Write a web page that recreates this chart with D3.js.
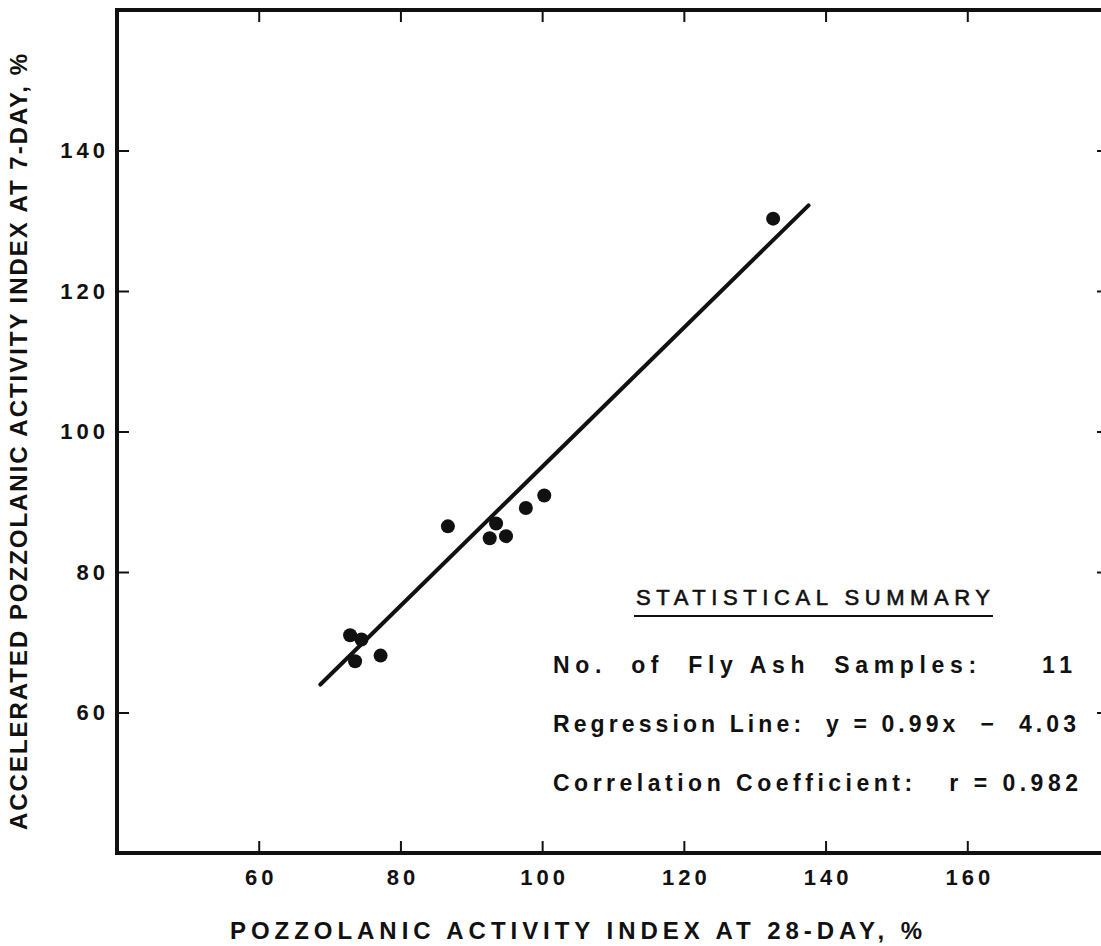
<!DOCTYPE html>
<html>
<head>
<meta charset="utf-8">
<script src="https://cdn.jsdelivr.net/npm/d3@7"></script>
<style>
  body { margin: 0; background: #fff; }
  svg text { font-family: "Liberation Sans", Arial, sans-serif; font-weight: bold; fill: #111; }
</style>
</head>
<body>
<div id="chart"></div>
<script>
// Data
var pozz28 = [132.6, 100.3, 97.7, 93.5, 86.7, 92.6, 94.9, 72.9, 74.5, 73.6, 77.2];
var accel7 = [130.3, 90.9, 89.1, 86.9, 86.5, 84.8, 85.1, 71.0, 70.4, 67.3, 68.1];
var xTicks = [60, 80, 100, 120, 140, 160];
var yTicks = [60, 80, 100, 120, 140];
var slope = 0.99;
var intercept = -4.03;
var fitRange = [68.7, 137.6];
var summaryTitle = "STATISTICAL SUMMARY";
var summaryLines = [
  "No.  of  Fly Ash  Samples:     11",
  "Regression Line:  y = 0.99x  \u2212  4.03",
  "Correlation Coefficient:   r = 0.982"
];

var svgWidth = 1101;
var svgHeight = 946;

var svg = d3.select("#chart")
  .append("svg")
  .attr("width", svgWidth)
  .attr("height", svgHeight);

// scales (right edge of the frame falls just off the picture)
var x = d3.scaleLinear().domain([40, 180]).range([117, 1109]);
var y = d3.scaleLinear().domain([40, 160]).range([853, 10]);

var ink = "#111";
var tickSpacing = 4;

// Frame
svg.append("path")
  .attr("d", `M${x(40)},${y(160)} L${x(40)},${y(40)} L${x(180)},${y(40)} L${x(180)},${y(160)} Z`)
  .attr("fill", "none")
  .attr("stroke", ink)
  .attr("stroke-width", 4);

// Axes with inward ticks
var bottomAxis = d3.axisBottom(x).tickValues(xTicks).tickSizeInner(-12).tickSizeOuter(0).tickPadding(16);
var leftAxis = d3.axisLeft(y).tickValues(yTicks).tickSizeInner(-12).tickSizeOuter(0).tickPadding(8);
var topAxis = d3.axisTop(x).tickValues(xTicks).tickSizeInner(-12).tickSizeOuter(0).tickFormat("");
var rightAxis = d3.axisRight(y).tickValues(yTicks).tickSizeInner(-12).tickSizeOuter(0).tickFormat("");

function styleAxis(g) {
  g.select(".domain").remove();
  g.selectAll(".tick line").attr("stroke", ink).attr("stroke-width", 2);
  g.selectAll(".tick text")
    .attr("fill", ink)
    .style("font-size", "22px")
    .style("letter-spacing", tickSpacing + "px");
}

svg.append("g").attr("transform", `translate(0,${y(40)})`).call(bottomAxis).call(styleAxis)
  .selectAll(".tick text").attr("dx", tickSpacing / 2);
svg.append("g").attr("transform", `translate(${x(40)},0)`).call(leftAxis).call(styleAxis);
svg.append("g").attr("transform", `translate(0,${y(160)})`).call(topAxis).call(styleAxis);
svg.append("g").attr("transform", `translate(${x(180)},0)`).call(rightAxis).call(styleAxis);

// Regression line
svg.append("line")
  .attr("x1", x(fitRange[0]))
  .attr("y1", y(slope * fitRange[0] + intercept))
  .attr("x2", x(fitRange[1]))
  .attr("y2", y(slope * fitRange[1] + intercept))
  .attr("stroke", ink)
  .attr("stroke-width", 4)
  .attr("stroke-linecap", "round");

// Points
svg.selectAll("circle")
  .data(pozz28)
  .enter()
  .append("circle")
  .attr("cx", d => x(d))
  .attr("cy", (d, i) => y(accel7[i]))
  .attr("r", 7)
  .attr("fill", ink);

// Axis titles
svg.append("text")
  .attr("x", 576)
  .attr("y", 939)
  .attr("text-anchor", "middle")
  .attr("textLength", 692)
  .attr("lengthAdjust", "spacing")
  .style("font-size", "24px")
  .text("POZZOLANIC ACTIVITY INDEX AT 28-DAY, %");

svg.append("text")
  .attr("transform", "translate(27,442) rotate(-90)")
  .attr("text-anchor", "middle")
  .attr("textLength", 776)
  .attr("lengthAdjust", "spacing")
  .style("font-size", "24px")
  .text("ACCELERATED POZZOLANIC ACTIVITY INDEX AT 7-DAY, %");

// Statistical summary
svg.append("text")
  .attr("x", 636)
  .attr("y", 605)
  .attr("textLength", 354)
  .attr("lengthAdjust", "spacing")
  .style("font-size", "22px")
  .style("font-weight", "normal")
  .style("stroke", ink)
  .style("stroke-width", 0.6)
  .text(summaryTitle);

svg.append("line")
  .attr("x1", 634).attr("x2", 993)
  .attr("y1", 616).attr("y2", 616)
  .attr("stroke", ink)
  .attr("stroke-width", 2);

var lineEnds = [1072, 1076, 1078];
svg.selectAll(".summary")
  .data(summaryLines)
  .enter()
  .append("text")
  .attr("class", "summary")
  .attr("x", 553)
  .attr("y", (d, i) => 673 + i * 59)
  .attr("textLength", (d, i) => lineEnds[i] - 553)
  .attr("lengthAdjust", "spacing")
  .style("font-size", "23px")
  .style("white-space", "pre")
  .text(d => d);
</script>
</body>
</html>
